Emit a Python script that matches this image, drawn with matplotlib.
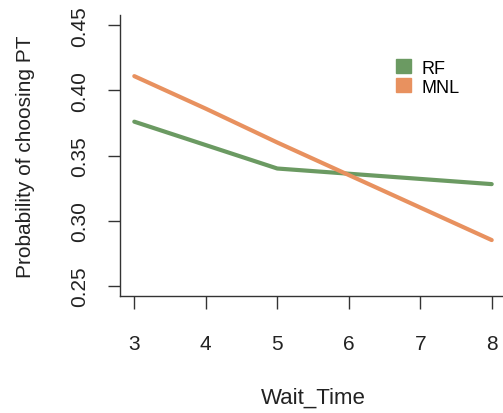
import matplotlib
matplotlib.use("Agg")
import matplotlib.pyplot as plt
from matplotlib.patches import Patch

plt.rcParams['font.family'] = ['Liberation Sans', 'DejaVu Sans']

# values
wait_time = [3, 4, 5, 6, 7, 8]
rf_prob = [0.376, 0.358, 0.340, 0.336, 0.332, 0.328]
mnl_prob = [0.411, 0.386, 0.360, 0.335, 0.310, 0.285]
y_ticks = [0.25, 0.30, 0.35, 0.40, 0.45]
series_names = ["RF", "MNL"]

GREEN = "#6B9A62"
ORANGE = "#E8915F"

fig = plt.figure(figsize=(5.03, 4.14), dpi=100)
ax = fig.add_axes([120 / 503, 117 / 414, 386 / 503, 281 / 414])

ax.plot(wait_time, rf_prob, color=GREEN, lw=3, solid_capstyle="round")
ax.plot(wait_time, mnl_prob, color=ORANGE, lw=3, solid_capstyle="round")

ax.set_xlim(2.8, 8.2)
ax.set_ylim(0.242, 0.458)
ax.set_xticks(wait_time)
ax.set_yticks(y_ticks)
ax.set_yticklabels([f"{v:.2f}" for v in y_ticks], rotation=90, va="center")

for s in ("top", "right"):
    ax.spines[s].set_visible(False)
for s in ("left", "bottom"):
    ax.spines[s].set_linewidth(1.0)
    ax.spines[s].set_color("#333333")

ax.tick_params(axis="both", direction="out", length=9, width=1.0,
               color="#333333", labelsize=15, labelcolor="#222222")
ax.tick_params(axis="x", pad=18)
ax.tick_params(axis="y", pad=13)

ax.set_xlabel("Wait_Time", fontsize=16, color="#222222")
ax.xaxis.set_label_coords(0.5, -0.36)
ax.xaxis.label.set_va("center")
ax.set_ylabel("Probability of choosing PT", fontsize=15, color="#222222")
ax.yaxis.set_label_coords(-0.246, 0.5)
ax.yaxis.label.set_va("center")

handles = [Patch(facecolor=GREEN, edgecolor=GREEN),
           Patch(facecolor=ORANGE, edgecolor=ORANGE)]
ax.legend(handles, series_names, loc="upper left", bbox_to_anchor=(0.674, 0.9),
          frameon=False, fontsize=13, handlelength=0.8, handleheight=0.8,
          handletextpad=0.6, labelspacing=0.1)

fig.savefig("out.png", dpi=100)
